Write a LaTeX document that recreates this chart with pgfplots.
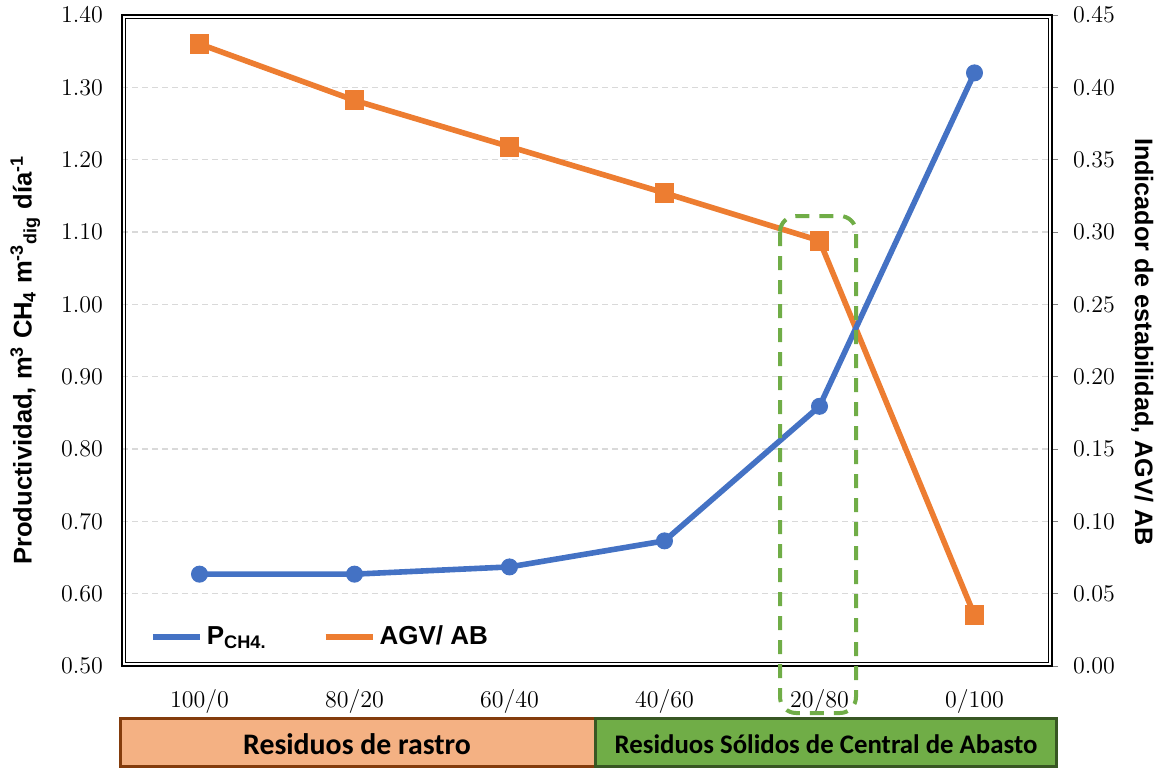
\documentclass[border=0pt]{standalone}
\usepackage{fontspec}
\setmainfont{Liberation Sans}
\newfontfamily\calibri{Carlito}
\usepackage{pgfplots}
\pgfplotsset{compat=1.18}
\definecolor{cblue}{HTML}{4472C4}
\definecolor{corange}{HTML}{ED7D31}
\definecolor{cgreen}{HTML}{70AD47}
\definecolor{cdkgreen}{HTML}{385723}
\definecolor{corangel}{HTML}{F4B183}
\definecolor{cbrown}{HTML}{843C0C}
\definecolor{cgrid}{HTML}{D9D9D9}
\begin{document}
\begin{tikzpicture}
\path[use as bounding box] (0,0) rectangle (579.5pt,383.5pt);
% Axis A: right axis (orange), grid, box, x labels
\begin{axis}[
  at={(61pt,50.5pt)}, anchor=south west,
  width=465pt, height=325.5pt, scale only axis,
  xmin=-0.5, xmax=5.5, ymin=0, ymax=0.45,
  xtick={0,1,2,3,4,5},
  xticklabels={$100/0$,$80/20$,$60/40$,$40/60$,$20/80$,$0/100$},
  xtick style={draw=none},
  ytick={0,0.05,0.1,0.15,0.2,0.25,0.3,0.35,0.4,0.45},
  ytick pos=right, yticklabel pos=right,
  tick align=outside, major tick length=3pt,
  ytick style={gray, line width=0.5pt},
  yticklabel style={/pgf/number format/fixed,/pgf/number format/fixed zerofill,/pgf/number format/precision=2, xshift=4pt},
  xticklabel style={yshift=-5pt},
  tick label style={font=\fontsize{12}{14}\selectfont},
  ymajorgrids, grid style={cgrid, line width=0.6pt, dash pattern=on 3pt off 2pt},
  axis line style={line width=1.3pt},
  every axis y label/.style={at={(axis description cs:1.097,0.498)}, rotate=-90, anchor=center},
  ylabel={Indicador de estabilidad, AGV/ AB},
  ylabel style={font=\bfseries\fontsize{12.6}{14}\selectfont},
]
\draw[line width=0.5pt] ([shift={(1.6pt,1.6pt)}]rel axis cs:0,0) rectangle ([shift={(-1.6pt,-1.6pt)}]rel axis cs:1,1);
\addplot[corange, line width=2.8pt, mark=square*, mark size=4.7pt, mark options={solid, line width=0.5pt}]
  coordinates {(0,0.430)(1,0.391)(2,0.359)(3,0.327)(4,0.294)(5,0.035)};
\end{axis}
% Axis B: left axis (blue)
\begin{axis}[
  at={(61pt,50.5pt)}, anchor=south west,
  width=465pt, height=325.5pt, scale only axis,
  xmin=-0.5, xmax=5.5, ymin=0.5, ymax=1.4,
  axis x line=none,
  axis y line*=left, axis line style={draw=none},
  ytick={0.5,0.6,0.7,0.8,0.9,1.0,1.1,1.2,1.3,1.4},
  major tick length=0pt,
  yticklabel style={/pgf/number format/fixed,/pgf/number format/fixed zerofill,/pgf/number format/precision=2, xshift=-6pt},
  tick label style={font=\fontsize{12}{14}\selectfont},
  every axis y label/.style={at={(axis description cs:-0.104,0.47)}, rotate=90, anchor=center},
  ylabel={Productividad, m\textsuperscript{3} CH\textsubscript{4} m\textsuperscript{-3}\textsubscript{dig} día\textsuperscript{-1}},
  ylabel style={font=\bfseries\fontsize{12.8}{14}\selectfont},
  legend style={at={(axis description cs:0.023,0.0445)}, anchor=west, draw=none, fill=none,
    font=\bfseries\fontsize{13}{15}\selectfont, legend columns=2,
    /tikz/every even column/.append style={column sep=26pt}},
  legend image code/.code={\draw[#1, line width=3pt] (0pt,0pt) -- (23.5pt,0pt);},
]
\addplot[cblue, line width=2.8pt, mark=*, mark size=4pt, mark options={line width=0.5pt}]
  coordinates {(0,0.627)(1,0.627)(2,0.637)(3,0.673)(4,0.859)(5,1.320)};
\addlegendentry{P\textsubscript{CH4.}}
\addlegendimage{corange}
\addlegendentry{AGV/ AB}
\end{axis}
\begin{scope}[shift={(0pt,383.5pt)}, x=0.5pt, y=-0.5pt]
\draw[draw=cbrown, line width=1.5pt, fill=corangel] (120,718) rectangle (595,766);
\node[font=\calibri\bfseries\fontsize{14.9}{16}\selectfont] at (357,744) {Residuos de rastro};
\draw[draw=cdkgreen, line width=1.5pt, fill=cgreen] (595,718) rectangle (1056,766);
\node[font=\calibri\bfseries\fontsize{13.4}{15}\selectfont] at (826,744) {Residuos Sólidos de Central de Abasto};
\draw[cgreen, line width=2pt, dash pattern=on 7pt off 5pt, rounded corners=8pt] (780,216) rectangle (856,713);
\end{scope}
\end{tikzpicture}
\end{document}
